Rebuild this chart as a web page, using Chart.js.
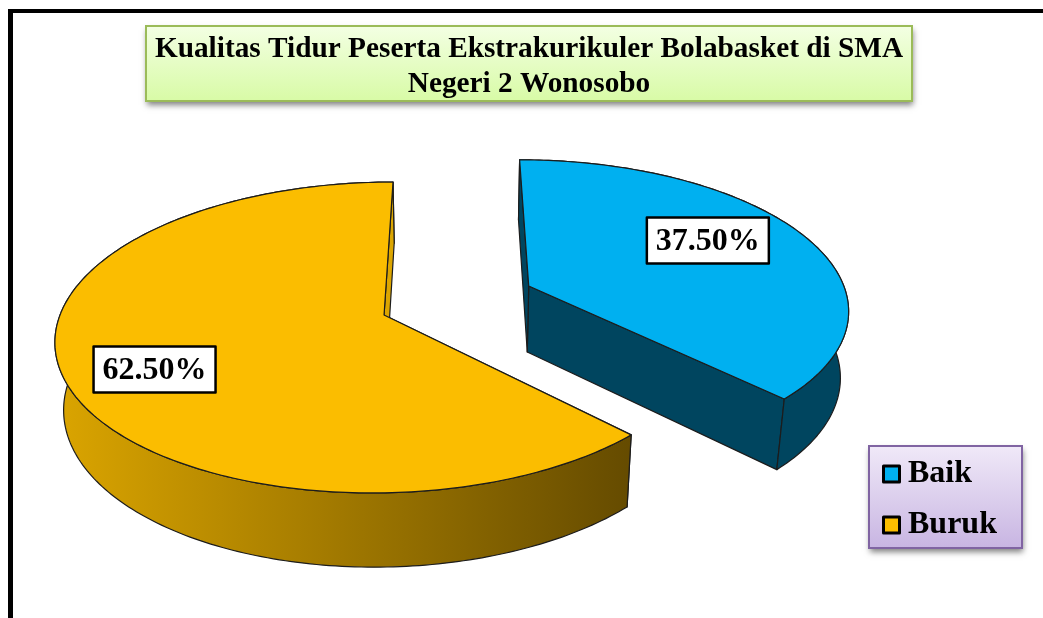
<!DOCTYPE html>
<html>
<head>
<meta charset="utf-8">
<style>
  html, body { margin: 0; padding: 0; background: #fff; }
  canvas { display: block; }
</style>
<script src="https://cdn.jsdelivr.net/npm/chart.js@4/dist/chart.umd.min.js"></script>
</head>
<body>
<canvas id="chart" width="1043" height="618"></canvas>
<script>
const titleLines = ['Kualitas Tidur Peserta Ekstrakurikuler Bolabasket di SMA', 'Negeri 2 Wonosobo'];
const categories = ['Baik', 'Buruk'];
const percentages = [37.5, 62.5];

const topColors = ['#00b0f0', '#fbbd00'];
const FONT = '"Liberation Serif", serif';

// camera used to lay the pie on its side
const view = { cx: 455, cy: 315, a: 324, b: 152.2, p: 0.1447, vx: 457, vy: 3500, depth: 0.0211 };
// how far each slice is pulled out, in radius units
const explode = [{ x: 0.234, y: 0.196 }, { x: -0.219, y: 0 }];
const labelSpots = [{ r: 0.69, turn: -6.1 }, { r: 0.745, turn: -4.7 }];
// wall colours of the near and far cut of each slice
const nearCut = ['#00455f', '#654b00'];
const farCut = ['#00455f', '#dca600'];

function project(x, y) {
  const w = 1 + view.p * y;
  return { x: view.cx + view.a * x / w, y: view.cy - view.b * y / w, w: w };
}

function drop(pt) {
  const t = view.depth / pt.w;
  return { x: pt.x + (view.vx - pt.x) * t, y: pt.y + (view.vy - pt.y) * t, w: pt.w };
}

function rimPoints(off, start, end) {
  const pts = [];
  const steps = Math.ceil(Math.abs(end - start) / (Math.PI / 180));
  for (let i = 0; i <= steps; i++) {
    const ang = start + (end - start) * i / steps;
    pts.push(project(off.x + Math.cos(ang), off.y - Math.sin(ang)));
  }
  return pts;
}

function tracePoly(ctx, pts) {
  ctx.beginPath();
  pts.forEach((p, i) => (i ? ctx.lineTo(p.x, p.y) : ctx.moveTo(p.x, p.y)));
  ctx.closePath();
}

function fillPoly(ctx, pts, fill) {
  tracePoly(ctx, pts);
  ctx.fillStyle = fill;
  ctx.fill();
  ctx.strokeStyle = '#1c1c1c';
  ctx.lineWidth = 1.2;
  ctx.lineJoin = 'round';
  ctx.stroke();
}

function sideFill(ctx, index) {
  if (index === 0) return '#00455f';
  const grad = ctx.createLinearGradient(54, 0, 631, 0);
  grad.addColorStop(0, '#dba500');
  grad.addColorStop(1, '#654b00');
  return grad;
}

function shadowBox(ctx, x, y, w, h, stops, border) {
  ctx.save();
  const grad = ctx.createLinearGradient(0, y, 0, y + h);
  grad.addColorStop(0, stops[0]);
  grad.addColorStop(1, stops[1]);
  ctx.shadowColor = 'rgba(0,0,0,0.5)';
  ctx.shadowBlur = 6;
  ctx.shadowOffsetX = 1;
  ctx.shadowOffsetY = 4;
  ctx.fillStyle = grad;
  ctx.fillRect(x, y, w, h);
  ctx.shadowColor = 'transparent';
  ctx.strokeStyle = border;
  ctx.lineWidth = 2;
  ctx.strokeRect(x, y, w, h);
  ctx.restore();
}

const pie3d = {
  id: 'pie3d',
  afterLayout(chart) {
    chart.legend.left = 872;
    chart.legend.right = 1022;
    chart.legend.top = 439;
    chart.legend.bottom = 618;
  },
  beforeDraw(chart) {
    const ctx = chart.ctx;
    ctx.save();
    ctx.fillStyle = '#000';
    ctx.fillRect(8, 9, 1035, 4);
    ctx.fillRect(8, 9, 5, 609);
    ctx.restore();
    shadowBox(ctx, 146, 26, 766, 75, ['#f3ffe3', '#d8fba6'], '#9bbb59');
    shadowBox(ctx, 869, 446, 153, 102, ['#f0e9f8', '#c8b5e2'], '#8064a2');
  },
  beforeDatasetsDraw(chart) {
    const ctx = chart.ctx;
    const arcs = chart.getDatasetMeta(0).data;
    ctx.save();
    arcs.forEach((arc, i) => {
      const off = explode[i];
      const rim = rimPoints(off, arc.startAngle, arc.endAngle);
      const apex = project(off.x, off.y);
      const ends = [rim[0], rim[rim.length - 1]].sort((p, q) => q.y - p.y);

      // near cut, outer wall, far cut, and the top goes over whatever is hidden
      fillPoly(ctx, [apex, ends[0], drop(ends[0]), drop(apex)], nearCut[i]);
      fillPoly(ctx, rim.concat(rim.map(drop).reverse()), sideFill(ctx, i));
      fillPoly(ctx, [apex, ends[1], drop(ends[1]), drop(apex)], farCut[i]);
      fillPoly(ctx, [apex].concat(rim), topColors[i]);
    });

    ctx.font = 'bold 32px ' + FONT;
    ctx.textAlign = 'center';
    ctx.textBaseline = 'middle';
    arcs.forEach((arc, i) => {
      const spot = labelSpots[i];
      const mid = (arc.startAngle + arc.endAngle) / 2 + spot.turn * Math.PI / 180;
      const pos = project(explode[i].x + spot.r * Math.cos(mid), explode[i].y - spot.r * Math.sin(mid));
      ctx.fillStyle = '#fff';
      ctx.fillRect(pos.x - 61, pos.y - 23, 122, 46);
      ctx.strokeStyle = '#000';
      ctx.lineWidth = 2.5;
      ctx.strokeRect(pos.x - 61, pos.y - 23, 122, 46);
      ctx.fillStyle = '#000';
      ctx.fillText(percentages[i].toFixed(2) + '%', pos.x, pos.y + 1);
    });
    ctx.restore();
    return false;
  }
};

new Chart(document.getElementById('chart'), {
  type: 'pie',
  data: {
    labels: categories,
    datasets: [{
      data: percentages,
      backgroundColor: topColors
    }]
  },
  options: {
    responsive: false,
    animation: false,
    layout: { padding: { left: 15, top: 32 } },
    plugins: {
      tooltip: { enabled: false },
      title: {
        display: true,
        text: titleLines,
        color: '#000',
        padding: 0,
        font: { family: FONT, size: 29.3, weight: 'bold', lineHeight: 1.195 }
      },
      legend: {
        position: 'right',
        align: 'start',
        labels: {
          color: '#000',
          font: { family: FONT, size: 32, weight: 'bold' },
          usePointStyle: true,
          boxWidth: 1,
          boxHeight: 16,
          padding: 19,
          generateLabels(chart) {
            return categories.map((name, i) => ({
              text: name,
              fillStyle: topColors[i],
              strokeStyle: '#000',
              lineWidth: 3,
              lineJoin: 'round',
              pointStyle: 'rect',
              fontColor: '#000',
              index: i
            }));
          }
        }
      }
    }
  },
  plugins: [pie3d]
});
</script>
</body>
</html>
